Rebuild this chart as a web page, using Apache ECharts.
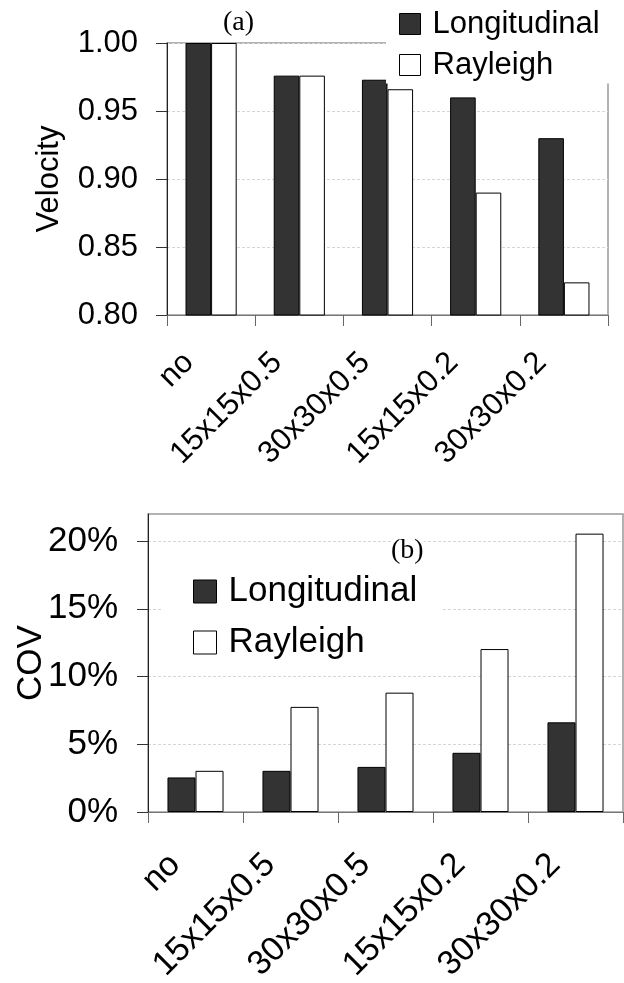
<!DOCTYPE html>
<html>
<head>
<meta charset="utf-8">
<script src="https://cdn.jsdelivr.net/npm/echarts@6/dist/echarts.min.js"></script>
<style>
html,body{margin:0;padding:0;background:#fff;}
#main{width:624px;height:983px;}
</style>
</head>
<body>
<div id="main"></div>
<script>
const categories = ['no', '15x15x0.5', '30x30x0.5', '15x15x0.2', '30x30x0.2'];
const seriesNames = ['Longitudinal', 'Rayleigh'];
const velocityLongitudinal = [1.000, 0.976, 0.973, 0.960, 0.930];
const velocityRayleigh = [1.000, 0.976, 0.966, 0.890, 0.824];
const covLongitudinal = [0.0255, 0.0304, 0.0333, 0.0437, 0.0662];
const covRayleigh = [0.0304, 0.0776, 0.0881, 0.1203, 0.2055];
const velocityTicks = [0.80, 0.85, 0.90, 0.95, 1.00];
const covTicks = [0, 0.05, 0.10, 0.15, 0.20];
const panelLabels = ['(a)', '(b)'];

const FONT = 'Liberation Sans, Arial, sans-serif';
const SERIF = 'Liberation Serif, Times New Roman, serif';
const darkStyle = { color: '#333333', borderColor: '#000', borderWidth: 1 };
const lightStyle = { color: '#ffffff', borderColor: '#000', borderWidth: 1 };

const chart = echarts.init(document.getElementById('main'), null, { renderer: 'canvas' });

function xAxisCfg(gridIndex, fontSize, margin, lift) {
  return {
    gridIndex: gridIndex, type: 'category', data: categories,
    axisLine: { show: true, lineStyle: { color: '#777', width: 1 } },
    axisTick: { show: true, length: 11, lineStyle: { color: '#666' } },
    axisLabel: { interval: 0, rotate: 45, fontSize: fontSize, fontFamily: FONT, color: '#000',
                 align: 'right', verticalAlign: 'bottom', margin: margin, padding: [0, 0, lift, 0] },
    splitLine: { show: false }
  };
}

const option = {
  animation: false,
  backgroundColor: '#fff',
  grid: [
    { left: 167, top: 43, width: 441, height: 272, show: true, borderColor: '#999', borderWidth: 1.5,
      containLabel: false, outerBoundsMode: 'none' },
    { left: 148, top: 514, width: 475, height: 298, show: true, borderColor: '#999', borderWidth: 1.5,
      containLabel: false, outerBoundsMode: 'none' }
  ],
  legend: [
    {
      orient: 'vertical', left: 386, top: 0,
      padding: [8.5, 10, 3, 13],
      backgroundColor: '#fff',
      itemWidth: 21, itemHeight: 21, itemGap: 10,
      textStyle: { fontSize: 31, lineHeight: 31, fontFamily: FONT, color: '#000', padding: [0, 0, 0, 7] },
      data: [
        { name: seriesNames[0], icon: 'rect', itemStyle: darkStyle },
        { name: seriesNames[1], icon: 'rect', itemStyle: lightStyle }
      ],
      selectedMode: false, z: 10
    },
    {
      orient: 'vertical', left: 163, top: 554,
      padding: [20, 25, 10, 30],
      backgroundColor: '#fff',
      itemWidth: 23, itemHeight: 23, itemGap: 16,
      textStyle: { fontSize: 35, lineHeight: 35, fontFamily: FONT, color: '#000', padding: [0, 0, 0, 7] },
      data: [
        { name: seriesNames[0], icon: 'rect', itemStyle: darkStyle },
        { name: seriesNames[1], icon: 'rect', itemStyle: lightStyle }
      ],
      selectedMode: false, z: 10
    }
  ],
  xAxis: [ xAxisCfg(0, 31, 65, 16), xAxisCfg(1, 34, 68, 12) ],
  yAxis: [
    {
      gridIndex: 0, type: 'value', min: velocityTicks[0], max: velocityTicks[velocityTicks.length - 1], interval: 0.05,
      axisLine: { show: true, lineStyle: { color: '#222', width: 1 } },
      axisTick: { show: true, length: 11, lineStyle: { color: '#333' } },
      axisLabel: { fontSize: 31, fontFamily: FONT, color: '#000', margin: 29,
                   formatter: function (v) { return v.toFixed(2); } },
      splitLine: { show: true, lineStyle: { color: '#d6d6d6', type: [3, 2], width: 1 } },
      name: 'Velocity', nameLocation: 'middle', nameGap: 102, nameMoveOverlap: false,
      nameTextStyle: { fontSize: 31, fontFamily: FONT, color: '#000' }
    },
    {
      gridIndex: 1, type: 'value', min: 0, max: 0.22, interval: 0.05,
      axisLine: { show: true, lineStyle: { color: '#222', width: 1 } },
      axisTick: { show: true, length: 11, lineStyle: { color: '#333' }, customValues: covTicks },
      axisLabel: { fontSize: 35, fontFamily: FONT, color: '#000', margin: 30, customValues: covTicks,
                   formatter: function (v) { return Math.round(v * 100) + '%'; } },
      splitLine: { show: true, lineStyle: { color: '#d6d6d6', type: [3, 2], width: 1 } },
      name: 'COV', nameLocation: 'middle', nameGap: 99, nameMoveOverlap: false,
      nameTextStyle: { fontSize: 35, fontFamily: FONT, color: '#000' }
    }
  ],
  series: [
    { name: seriesNames[0], type: 'bar', xAxisIndex: 0, yAxisIndex: 0, data: velocityLongitudinal,
      itemStyle: darkStyle, barGap: '0%', barCategoryGap: '42%' },
    { name: seriesNames[1], type: 'bar', xAxisIndex: 0, yAxisIndex: 0, data: velocityRayleigh,
      itemStyle: lightStyle, barGap: '0%', barCategoryGap: '42%' },
    { name: seriesNames[0], type: 'bar', xAxisIndex: 1, yAxisIndex: 1, data: covLongitudinal,
      itemStyle: darkStyle, barGap: '0%', barCategoryGap: '41%' },
    { name: seriesNames[1], type: 'bar', xAxisIndex: 1, yAxisIndex: 1, data: covRayleigh,
      itemStyle: lightStyle, barGap: '0%', barCategoryGap: '41%' }
  ],
  graphic: [
    { type: 'text', left: 223, top: 9, z: 20,
      style: { text: panelLabels[0], fontSize: 28, fontFamily: SERIF, fill: '#000' } },
    { type: 'text', left: 391, top: 537, z: 20,
      style: { text: panelLabels[1], fontSize: 28, fontFamily: SERIF, fill: '#000', backgroundColor: '#fff' } }
  ]
};
chart.setOption(option);
</script>
</body>
</html>
